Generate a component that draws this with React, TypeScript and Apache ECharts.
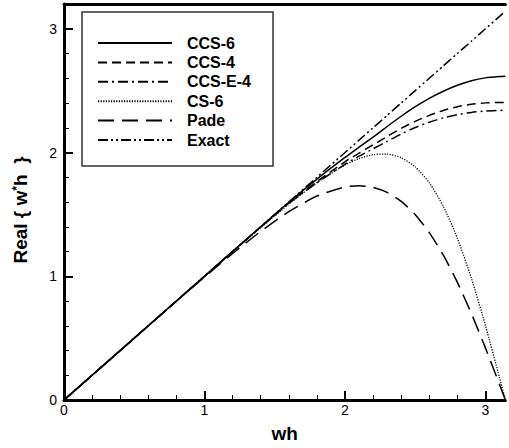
import React, { useEffect, useRef } from "react";
import * as echarts from "echarts";

// Reduced wavenumber wh and the real part of the modified wavenumber of each scheme
const wh = [0, 0.2, 0.4, 0.6, 0.8, 1.0, 1.2, 1.4, 1.6, 1.8, 2.0, 2.1, 2.2, 2.3, 2.4, 2.5, 2.6, 2.7, 2.8, 2.9, 3.0, 3.1, 3.1416];

const ccs6 = [0, 0.2, 0.4, 0.6, 0.8, 1.0, 1.2, 1.4, 1.598, 1.785, 1.96, 2.043, 2.125, 2.21, 2.293, 2.37, 2.438, 2.495, 2.543, 2.58, 2.603, 2.614, 2.616];
const ccs4 = [0, 0.2, 0.4, 0.6, 0.8, 1.0, 1.2, 1.398, 1.592, 1.765, 1.925, 1.995, 2.062, 2.13, 2.195, 2.252, 2.3, 2.34, 2.37, 2.39, 2.401, 2.405, 2.405];
const ccsE4 = [0, 0.2, 0.4, 0.6, 0.8, 1.0, 1.2, 1.397, 1.59, 1.755, 1.905, 1.97, 2.03, 2.09, 2.15, 2.202, 2.245, 2.28, 2.306, 2.324, 2.335, 2.34, 2.341];
const cs6 = [0, 0.2, 0.4, 0.6, 0.7999, 0.9995, 1.198, 1.3936, 1.5825, 1.7563, 1.8994, 1.951, 1.9827, 1.9877, 1.9578, 1.8838, 1.7559, 1.5653, 1.3071, 0.9821, 0.6, 0.1799, 0];
const pade = [0, 0.2, 0.3999, 0.5995, 0.798, 0.9937, 1.1836, 1.3624, 1.5216, 1.648, 1.7223, 1.732, 1.7184, 1.6774, 1.6049, 1.4976, 1.3529, 1.1699, 0.9501, 0.6975, 0.4192, 0.1246, 0];
const exact = [0, 0.2, 0.4, 0.6, 0.8, 1.0, 1.2, 1.4, 1.6, 1.8, 2.0, 2.1, 2.2, 2.3, 2.4, 2.5, 2.6, 2.7, 2.8, 2.9, 3.0, 3.1, 3.1416];

const seriesNames = ["CCS-6", "CCS-4", "CCS-E-4", "CS-6", "Pade", "Exact"];

// Axis ticks
const xMajor = [0, 1, 2, 3];
const xMinor = [0.2, 0.4, 0.6, 0.8, 1.2, 1.4, 1.6, 1.8, 2.2, 2.4, 2.6, 2.8];
const yMajor = [0, 1, 2, 3];
const yMinor = [0.2, 0.4, 0.6, 0.8, 1.2, 1.4, 1.6, 1.8, 2.2, 2.4, 2.6, 2.8];

const FONT = "'Liberation Sans', Arial, Helvetica, sans-serif";

export default function App() {
  const ref = useRef<HTMLDivElement>(null);

  useEffect(() => {
    if (!ref.current) return;
    const chart = echarts.init(ref.current, null, { renderer: "svg" });

    const zip = (ys: number[]) => wh.map((x, i) => [x, ys[i]]);
    const values = [ccs6, ccs4, ccsE4, cs6, pade, exact];
    const dashes: any[] = [
      "solid",
      [9, 5],
      [10, 4, 2, 4],
      [1.2, 1.4],
      [16, 8],
      [10, 3, 2, 3, 2, 3],
    ];
    const widths = [1.5, 1.5, 1.5, 1.3, 1.5, 1.5];

    const axisLine = { show: true, lineStyle: { color: "#000", width: 3 } };

    chart.setOption({
      animation: false,
      backgroundColor: "#fff",
      grid: { left: 64, right: 3.6, top: 4, bottom: 44.5, containLabel: false },
      legend: {
        data: seriesNames,
        orient: "vertical",
        left: 82,
        top: 12,
        itemWidth: 74,
        itemHeight: 14,
        itemGap: 3.4,
        padding: [23, 22, 18, 15],
        borderColor: "#333",
        borderWidth: 1.5,
        backgroundColor: "#fff",
        selectedMode: false,
        itemStyle: { opacity: 0 },
        textStyle: {
          fontFamily: FONT,
          fontSize: 16,
          fontWeight: "bold",
          color: "#000",
          lineHeight: 16,
          padding: [0, 0, 0, 10],
        },
      },
      xAxis: [
        {
          type: "value",
          min: 0,
          max: Math.PI,
          position: "bottom",
          axisLine,
          splitLine: { show: false },
          axisTick: { inside: true, length: 9, lineStyle: { color: "#000", width: 2 }, customValues: xMajor },
          axisLabel: {
            customValues: xMajor,
            fontFamily: FONT,
            fontSize: 14,
            color: "#000",
            margin: 3,
          },
          name: "wh",
          nameLocation: "middle",
          nameGap: 24,
          nameTextStyle: { fontFamily: FONT, fontSize: 19, fontWeight: "bold", color: "#000" },
        },
        {
          type: "value",
          min: 0,
          max: Math.PI,
          position: "bottom",
          axisLine: { show: false },
          splitLine: { show: false },
          axisTick: { inside: true, length: 5, lineStyle: { color: "#000", width: 1 }, customValues: xMinor },
          axisLabel: { show: false },
        },
        {
          type: "value",
          min: 0,
          max: Math.PI,
          position: "top",
          axisLine,
          splitLine: { show: false },
          axisTick: { show: false },
          axisLabel: { show: false },
        },
      ],
      yAxis: [
        {
          type: "value",
          min: 0,
          max: 3.2,
          position: "left",
          axisLine,
          splitLine: { show: false },
          axisTick: { inside: true, length: 9, lineStyle: { color: "#000", width: 2 }, customValues: yMajor },
          axisLabel: {
            customValues: yMajor,
            fontFamily: FONT,
            fontSize: 14,
            color: "#000",
            margin: 7,
          },
        },
        {
          type: "value",
          min: 0,
          max: 3.2,
          position: "left",
          axisLine: { show: false },
          splitLine: { show: false },
          axisTick: { inside: true, length: 5, lineStyle: { color: "#000", width: 1 }, customValues: yMinor },
          axisLabel: { show: false },
        },
      ],
      graphic: [
        {
          type: "text",
          x: 20,
          y: 210,
          rotation: Math.PI / 2,
          style: {
            text: "Real { w{s|*}h  }",
            fontFamily: FONT,
            fontSize: 19,
            fontWeight: "bold",
            align: "center",
            verticalAlign: "middle",
            fill: "#000",
            rich: {
              s: { fontFamily: FONT, fontSize: 12, fontWeight: "bold", fill: "#000", verticalAlign: "top" },
            },
          },
        },
      ],
      series: seriesNames.map((name, i) => ({
        name,
        type: "line",
        xAxisIndex: 0,
        yAxisIndex: 0,
        data: zip(values[i]),
        showSymbol: false,
        symbol: "none",
        smooth: 0.2,
        lineStyle: { color: "#000", width: widths[i], type: dashes[i] },
        itemStyle: { color: "#000" },
        z: 3,
      })),
    });

    return () => chart.dispose();
  }, []);

  return (
    <div
      ref={ref}
      style={{ position: "absolute", left: 0, top: 0, width: 509, height: 448, background: "#fff" }}
    />
  );
}
